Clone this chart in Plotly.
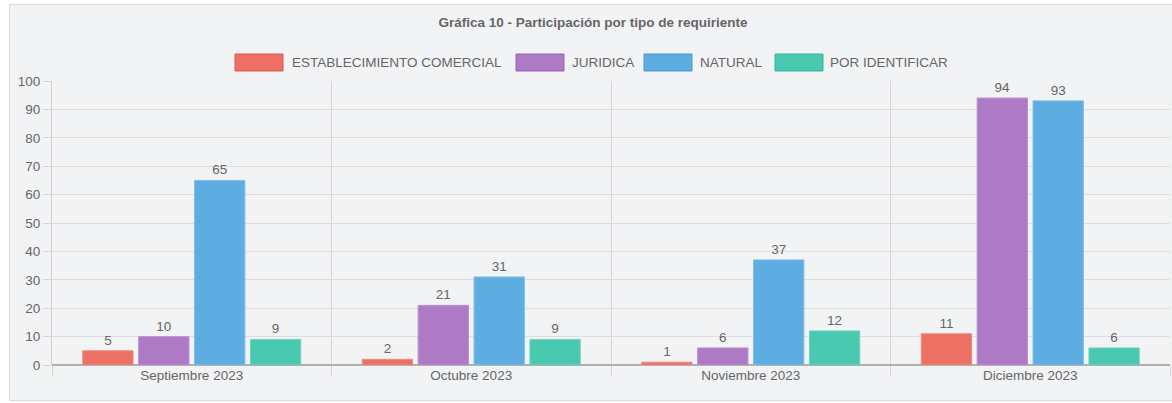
import plotly.graph_objects as go

categories = ["Septiembre 2023", "Octubre 2023", "Noviembre 2023", "Diciembre 2023"]
series_names = ["ESTABLECIMIENTO COMERCIAL", "JURIDICA", "NATURAL", "POR IDENTIFICAR"]
establecimiento = [5, 2, 1, 11]
juridica = [10, 21, 6, 94]
natural = [65, 31, 37, 93]
por_identificar = [9, 9, 12, 6]
y_ticks = list(range(0, 101, 10))

series_values = [establecimiento, juridica, natural, por_identificar]
colors = ["#ec7063", "#af7ac5", "#5dade2", "#48c9b0"]
edge_colors = ["#f08a7f", "#bb8fce", "#7fbde8", "#6fd3c0"]
swatch_edges = ["#d9584b", "#9b63b4", "#4a98cc", "#36b39b"]

FONT = "Liberation Sans"
FS = 13.5
TXT = "#666666"

W, H = 1172, 403
L, R, T, B = 52, 2, 81, 38
pw, ph = W - L - R, H - T - B

def px_x(px):
    return (px - L) / pw

def px_y(py):
    return (H - B - py) / ph

fig = go.Figure()
for name, vals, c, ec in zip(series_names, series_values, colors, edge_colors):
    fig.add_trace(go.Bar(
        x=categories, y=vals, name=name,
        marker=dict(color=c, line=dict(color=ec, width=1)),
        text=vals, textposition="outside",
        textfont=dict(family=FONT, size=FS, color=TXT),
        cliponaxis=False, showlegend=False, hoverinfo="skip",
    ))

shapes = [
    dict(type="rect", xref="paper", yref="paper", layer="below",
         x0=px_x(9.5), x1=px_x(1190), y0=px_y(400.5), y1=px_y(4.5),
         fillcolor="#f2f3f5", line=dict(color="#dcdcdc", width=1)),
]
annotations = []
swatch_x = [235, 516, 644, 775]
text_x = [290, 570, 698, 828]
for name, c, se, sx, tx in zip(series_names, colors, swatch_edges, swatch_x, text_x):
    shapes.append(dict(type="rect", xref="paper", yref="paper",
                       x0=px_x(sx), x1=px_x(sx + 48), y0=px_y(71), y1=px_y(54),
                       fillcolor=c, line=dict(color=se, width=1)))
    annotations.append(dict(xref="paper", yref="paper", x=px_x(tx), y=px_y(62.5),
                            xanchor="left", yanchor="middle", showarrow=False,
                            text=name, font=dict(family=FONT, size=FS, color=TXT)))

fig.update_layout(
    width=W, height=H,
    margin=dict(l=L, r=R, t=T, b=B, pad=0),
    paper_bgcolor="white", plot_bgcolor="rgba(0,0,0,0)",
    barmode="group", bargap=0.2, bargroupgap=0.1,
    font=dict(family=FONT, size=FS, color=TXT),
    title=dict(text="<b>Gráfica 10 - Participación por tipo de requiriente</b>",
               x=593 / W, xref="container", xanchor="center",
               y=1 - 22 / H, yref="container", yanchor="middle",
               font=dict(family=FONT, size=FS, color=TXT)),
    shapes=shapes, annotations=annotations, showlegend=False,
)
fig.update_xaxes(type="category", tickson="boundaries", ticks="outside", ticklen=10,
                 tickcolor="#d6d6d6", showgrid=True, gridcolor="#d6d6d6", gridwidth=1,
                 showline=False, tickfont=dict(size=FS, color=TXT))
fig.update_yaxes(range=[0, 100], tickvals=y_ticks, ticks="outside", ticklen=8,
                 tickcolor="#d6d6d6", showgrid=True, gridcolor="#dedede", gridwidth=1,
                 zeroline=True, zerolinecolor="#b0b0b0", zerolinewidth=1.5,
                 showline=True, linecolor="#d0d0d0", linewidth=1,
                 tickfont=dict(size=FS, color=TXT))

fig.write_html("out.html", config={"displayModeBar": False},
               post_script="document.body.style.margin='0';")
